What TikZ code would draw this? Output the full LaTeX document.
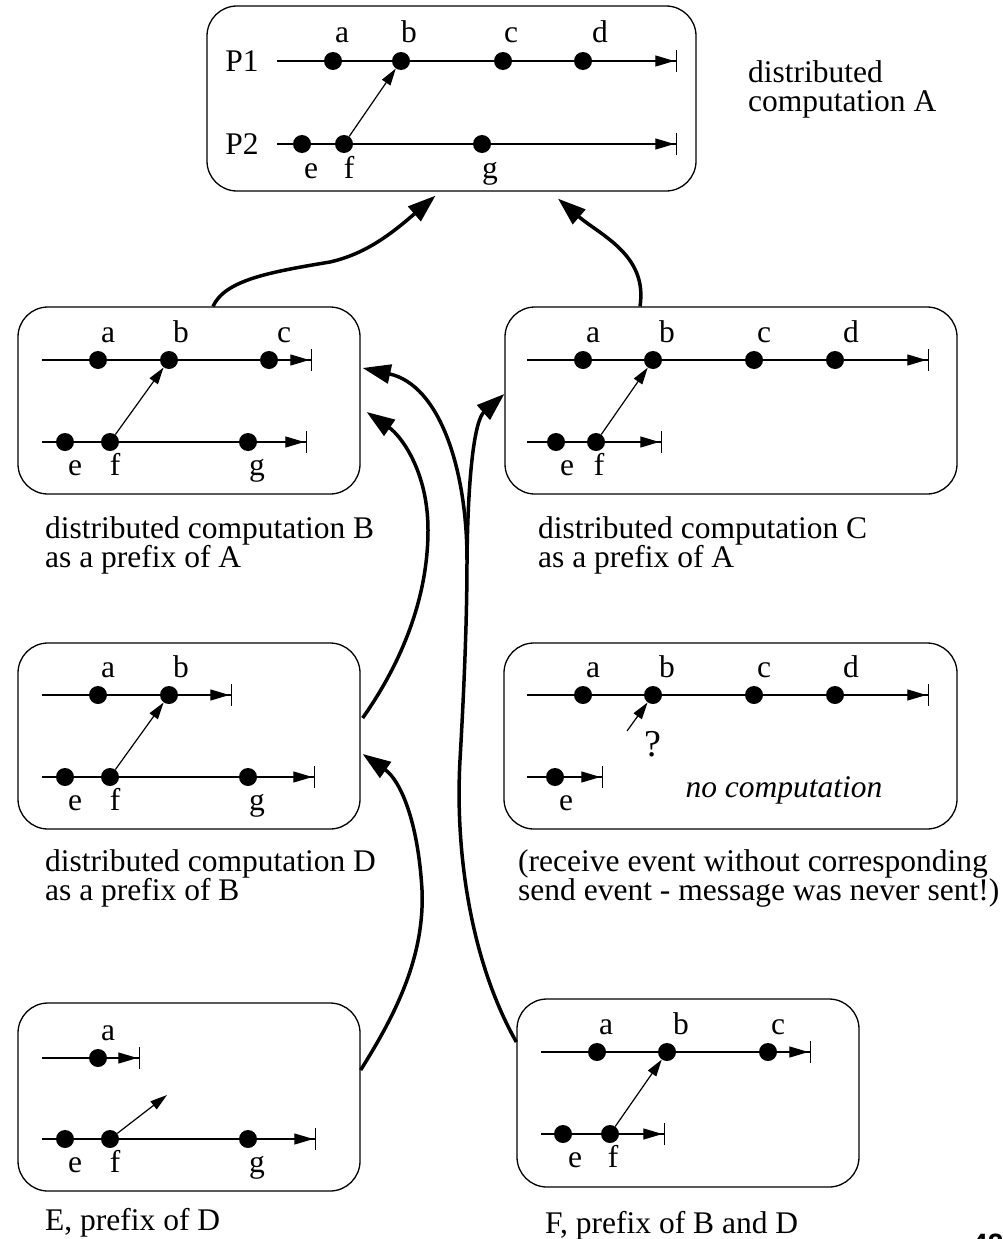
\documentclass[tikz,border=0pt]{standalone}
\usepackage{fontspec}
\setmainfont{Liberation Serif}
\newfontfamily\numfont{Liberation Sans}
\usetikzlibrary{arrows.meta,calc}

\begin{document}
\begin{tikzpicture}[x=1pt,y=-1pt,
  every node/.style={font=\fontsize{31.5}{29}\selectfont},
  box/.style={draw, line width=1.3pt, rounded corners=30pt, inner sep=0pt},
  ev/.style={circle, fill, inner sep=0pt, minimum size=18pt},
  lbl/.style={anchor=base, inner sep=0pt},
  caption/.style={anchor=base west, inner sep=0pt},
  tl/.style={line width=1.2pt, -{Triangle[length=19pt,width=11pt,sep=1.5pt]Bar[width=22pt]}},
  msg/.style={line width=1.2pt, -{Triangle[length=17pt,width=10pt]}},
  link/.style={line width=3.5pt, -{Triangle[length=28pt,width=19pt]}}
]
\useasboundingbox (0,0) rectangle (1002,1239);

% ---------------- frames ----------------
\node[box, minimum width=489pt, minimum height=185pt] (boxA) at (451.5,98.5) {};
\node[box, minimum width=342pt, minimum height=187pt] (boxB) at (189,400.5) {};
\node[box, minimum width=452pt, minimum height=187pt] (boxC) at (731,400.5) {};
\node[box, minimum width=342pt, minimum height=186pt] (boxD) at (189,736) {};
\node[box, minimum width=453pt, minimum height=186pt] (boxN) at (730.5,736) {};
\node[box, minimum width=342pt, minimum height=188pt] (boxE) at (189,1097) {};
\node[box, minimum width=342pt, minimum height=188pt] (boxF) at (688,1093) {};

% ---------------- computation A ----------------
\coordinate (A1s) at (277,61);  \coordinate (A1e) at (677,61);
\coordinate (A2s) at (277,144); \coordinate (A2e) at (677,144);
\draw[tl] (A1s) -- (A1e);
\draw[tl] (A2s) -- (A2e);
\node[lbl] (P1) at (242,71) {P1};
\node[lbl] (P2) at (242,154) {P2};
\node[ev] (Aa) at (333,61) {};
\node[ev] (Ab) at (401,61) {};
\node[ev] (Ac) at (503,61) {};
\node[ev] (Ad) at (583,61) {};
\node[ev] (Ae) at (302,144) {};
\node[ev] (Af) at (344,144) {};
\node[ev] (Ag) at (482,144) {};
\node[lbl] (Aal) at (342,43) {a};
\node[lbl] (Abl) at (409,43) {b};
\node[lbl] (Acl) at (511,43) {c};
\node[lbl] (Adl) at (600,43) {d};
\node[lbl] (Ael) at (311,178) {e};
\node[lbl] (Afl) at (349,178) {f};
\node[lbl] (Agl) at (490,178) {g};
\draw[msg] (Af) -- (Ab);
\node[caption] (capA1) at (748,82) {distributed};
\node[caption] (capA2) at (748,111) {computation A};

% ---------------- computation B ----------------
\coordinate (B1s) at (42,360);  \coordinate (B1e) at (312,360);
\coordinate (B2s) at (42,442);  \coordinate (B2e) at (307,442);
\draw[tl] (B1s) -- (B1e);
\draw[tl] (B2s) -- (B2e);
\node[ev] (Ba) at (98,360) {};
\node[ev] (Bb) at (169,360) {};
\node[ev] (Bc) at (269,360) {};
\node[ev] (Be) at (65,442) {};
\node[ev] (Bf) at (110,442) {};
\node[ev] (Bg) at (248,442) {};
\node[lbl] (Bal) at (108,342) {a};
\node[lbl] (Bbl) at (181,342) {b};
\node[lbl] (Bcl) at (284,342) {c};
\node[lbl] (Bel) at (75,475) {e};
\node[lbl] (Bfl) at (115,475) {f};
\node[lbl] (Bgl) at (257,475) {g};
\draw[msg] (Bf) -- (Bb);
\node[caption] (capB1) at (45,538) {distributed computation B};
\node[caption] (capB2) at (45,567) {as a prefix of A};

% ---------------- computation C ----------------
\coordinate (C1s) at (527,360); \coordinate (C1e) at (929,360);
\coordinate (C2s) at (527,442); \coordinate (C2e) at (662,442);
\draw[tl] (C1s) -- (C1e);
\draw[tl] (C2s) -- (C2e);
\node[ev] (Ca) at (583,360) {};
\node[ev] (Cb) at (653,360) {};
\node[ev] (Cc) at (754,360) {};
\node[ev] (Cd) at (835,360) {};
\node[ev] (Ce) at (556,442) {};
\node[ev] (Cf) at (596,442) {};
\node[lbl] (Cal) at (593,342) {a};
\node[lbl] (Cbl) at (667,342) {b};
\node[lbl] (Ccl) at (764,342) {c};
\node[lbl] (Cdl) at (851,342) {d};
\node[lbl] (Cel) at (567,475) {e};
\node[lbl] (Cfl) at (599,475) {f};
\draw[msg] (Cf) -- (Cb);
\node[caption] (capC1) at (538,538) {distributed computation C};
\node[caption] (capC2) at (538,567) {as a prefix of A};

% ---------------- computation D ----------------
\coordinate (D1s) at (42,695);  \coordinate (D1e) at (232,695);
\coordinate (D2s) at (42,777);  \coordinate (D2e) at (315,777);
\draw[tl] (D1s) -- (D1e);
\draw[tl] (D2s) -- (D2e);
\node[ev] (Da) at (98,695) {};
\node[ev] (Db) at (169,695) {};
\node[ev] (De) at (65,777) {};
\node[ev] (Df) at (110,777) {};
\node[ev] (Dg) at (248,777) {};
\node[lbl] (Dal) at (108,677) {a};
\node[lbl] (Dbl) at (181,677) {b};
\node[lbl] (Del) at (75,810) {e};
\node[lbl] (Dfl) at (115,810) {f};
\node[lbl] (Dgl) at (257,810) {g};
\draw[msg] (Df) -- (Db);
\node[caption] (capD1) at (45,871) {distributed computation D};
\node[caption] (capD2) at (45,900) {as a prefix of B};

% ---------------- inconsistent cut ----------------
\coordinate (N1s) at (527,695); \coordinate (N1e) at (929,695);
\coordinate (N2s) at (527,777); \coordinate (N2e) at (603,777);
\draw[tl] (N1s) -- (N1e);
\draw[tl] (N2s) -- (N2e);
\node[ev] (Na) at (583,695) {};
\node[ev] (Nb) at (653,695) {};
\node[ev] (Nc) at (754,695) {};
\node[ev] (Nd) at (835,695) {};
\node[ev] (Ne) at (555,777) {};
\node[lbl] (Nal) at (593,677) {a};
\node[lbl] (Nbl) at (667,677) {b};
\node[lbl] (Ncl) at (764,677) {c};
\node[lbl] (Ndl) at (851,677) {d};
\node[lbl] (Nel) at (566,810) {e};
\coordinate (Nq) at (627,731);
\draw[msg] (Nq) -- (Nb);
\node[lbl, font=\fontsize{38}{38}\selectfont] (Nqm) at (653,756) {?};
\node[lbl] (Nno) at (784,797) {\itshape no computation};
\node[caption] (capN1) at (518,871) {(receive event without corresponding};
\node[caption] (capN2) at (518,900) {send event - message was never sent!)};

% ---------------- computation E ----------------
\coordinate (E1s) at (42,1058); \coordinate (E1e) at (140,1058);
\coordinate (E2s) at (42,1139); \coordinate (E2e) at (316,1139);
\draw[tl] (E1s) -- (E1e);
\draw[tl] (E2s) -- (E2e);
\node[ev] (Ea) at (98,1058) {};
\node[ev] (Ee) at (65,1139) {};
\node[ev] (Ef) at (110,1139) {};
\node[ev] (Eg) at (248,1139) {};
\node[lbl] (Eal) at (108,1040) {a};
\node[lbl] (Eel) at (75,1172) {e};
\node[lbl] (Efl) at (115,1172) {f};
\node[lbl] (Egl) at (257,1172) {g};
\coordinate (Em) at (167,1095);
\draw[msg] (Ef) -- (Em);
\node[caption] (capE) at (45,1230) {E, prefix of D};

% ---------------- computation F ----------------
\coordinate (F1s) at (541,1052); \coordinate (F1e) at (811,1052);
\coordinate (F2s) at (541,1134); \coordinate (F2e) at (665,1134);
\draw[tl] (F1s) -- (F1e);
\draw[tl] (F2s) -- (F2e);
\node[ev] (Fa) at (597,1052) {};
\node[ev] (Fb) at (667,1052) {};
\node[ev] (Fc) at (768,1052) {};
\node[ev] (Fe) at (563,1134) {};
\node[ev] (Ff) at (610,1134) {};
\node[lbl] (Fal) at (606,1034) {a};
\node[lbl] (Fbl) at (681,1034) {b};
\node[lbl] (Fcl) at (778,1034) {c};
\node[lbl] (Fel) at (575,1167) {e};
\node[lbl] (Ffl) at (613,1167) {f};
\draw[msg] (Ff) -- (Fb);
\node[caption] (capF) at (545,1233) {F, prefix of B and D};

% page number
\node[anchor=base west, inner sep=0pt, font=\numfont\bfseries\fontsize{28}{28}\selectfont] (pg) at (972,1253) {42};

% ---------------- prefix relation ----------------
\coordinate (split) at (467,560);
\draw[link] ($(boxB.north)+(24,0)$) .. controls (225,280) and (270,272) .. (330,262)
            .. controls (365,254) and (390,235) .. ($(boxA.south)+(-16,4)$);
\draw[link] ($(boxC.north)+(-91,0)$) .. controls (648,255) and (600,235) .. ($(boxA.south)+(106.5,7)$);
\draw[link] ($(boxF.west)+(0,-51)$) .. controls (470,960) and (455,850) .. (460,760)
            .. controls (464,690) and (467,620) .. (split)
            .. controls (467,470) and (440,385) .. ($(boxB.east)+(2,-32.5)$);
\draw[link] (split) .. controls (468,470) and (475,420) .. ($(boxC.west)+(0,-6.5)$);
\draw[link] ($(boxD.east)+(2,-18)$) .. controls (400,665) and (428,600) .. (428,530)
            .. controls (428,470) and (400,435) .. ($(boxB.east)+(6,11.5)$);
\draw[link] ($(boxE.east)+(0,-27)$) .. controls (392,1020) and (425,960) .. (422,890)
            .. controls (418,820) and (400,780) .. ($(boxD.east)+(2,18)$);
\end{tikzpicture}
\end{document}
